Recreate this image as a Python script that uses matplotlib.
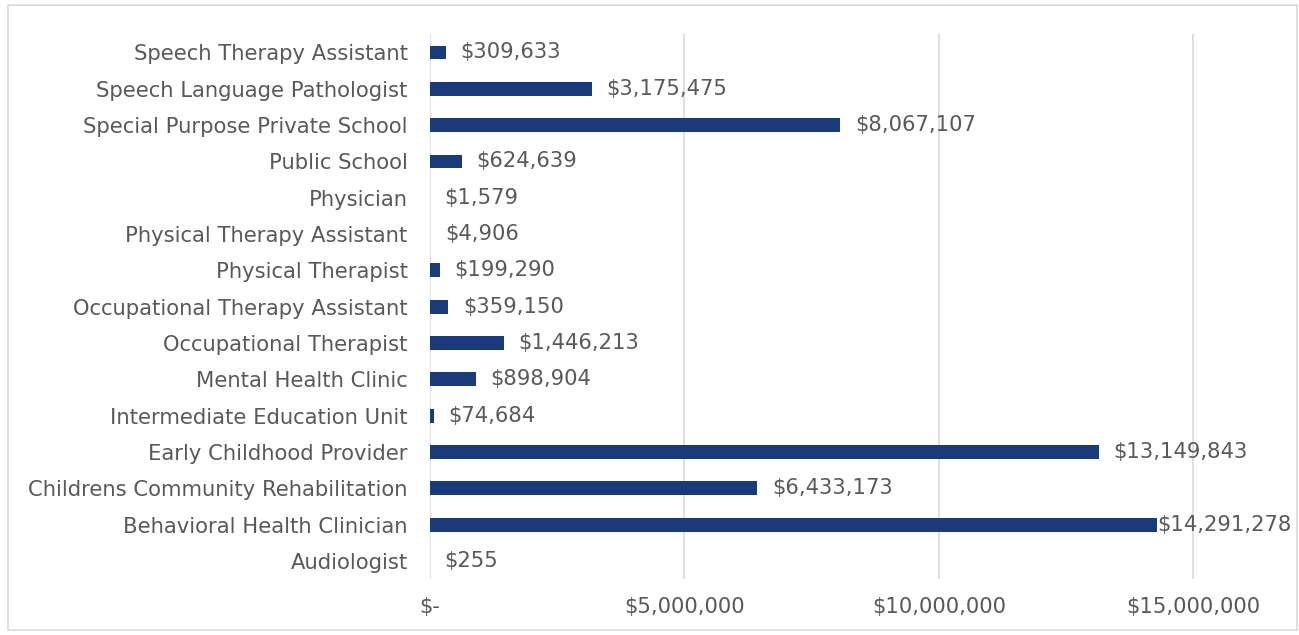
import matplotlib.pyplot as plt
from matplotlib.patches import Rectangle
from matplotlib.ticker import FuncFormatter

# data (bottom to top, as drawn)
categories = ['Audiologist', 'Behavioral Health Clinician',
              'Childrens Community Rehabilitation', 'Early Childhood Provider',
              'Intermediate Education Unit', 'Mental Health Clinic',
              'Occupational Therapist', 'Occupational Therapy Assistant',
              'Physical Therapist', 'Physical Therapy Assistant', 'Physician',
              'Public School', 'Special Purpose Private School',
              'Speech Language Pathologist', 'Speech Therapy Assistant']
amounts = [255, 14291278, 6433173, 13149843, 74684, 898904, 1446213, 359150,
           199290, 4906, 1579, 624639, 8067107, 3175475, 309633]
xticks = [0, 5000000, 10000000, 15000000]

plt.rcParams['font.family'] = ['DejaVu Sans']
grey = '#595959'
navy = '#1b3a7a'
fs = 15.2

fig = plt.figure(figsize=(12.99, 6.35), dpi=100)
ax = fig.add_axes([0.331, 0.088, 0.662, 0.858])

y = range(len(categories))
ax.barh(y, amounts, height=0.38, color=navy, zorder=3)
for k, v in enumerate(amounts):
    # excel pulls the longest label back so it stays inside the chart
    off = 0 if v > 14000000 else 10.5
    ax.annotate('${:,}'.format(v), (v, k), xytext=(off, 0),
                textcoords='offset points', va='center', ha='left',
                fontsize=fs, color=grey, zorder=4)

ax.set_yticks(list(y))
ax.set_yticklabels(categories, fontsize=fs, color=grey)
ax.set_ylim(-0.5, len(categories) - 0.5)
ax.set_xlim(0, 16900000)
ax.set_xticks(xticks)
ax.xaxis.set_major_formatter(FuncFormatter(
    lambda v, p: '$-' if v == 0 else '${:,.0f}'.format(v)))
ax.tick_params(axis='x', labelsize=fs, labelcolor=grey, length=0, pad=13)
ax.tick_params(axis='y', length=0, pad=16)
ax.grid(axis='x', color='#d9d9d9', linewidth=1.2, zorder=0)
for s in ax.spines.values():
    s.set_visible(False)

# chart border
fig.patches.append(Rectangle((8 / 1299, 5 / 635), 1289 / 1299, 625 / 635,
                             transform=fig.transFigure, fill=False,
                             edgecolor='#d9d9d9', linewidth=1.2))

fig.savefig('out.png', dpi=100)
